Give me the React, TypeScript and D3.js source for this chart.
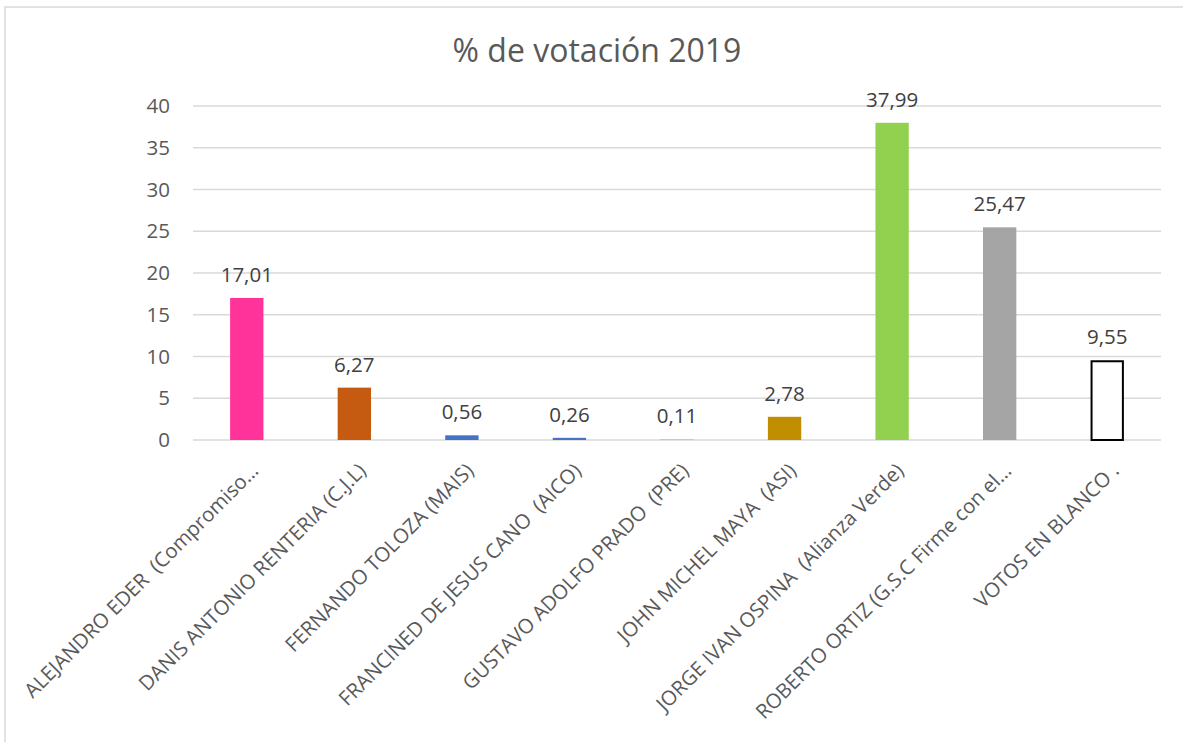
import React from "react";
import * as d3 from "d3";

const categories = [
  "ALEJANDRO EDER  (Compromiso…",
  "DANIS ANTONIO RENTERIA (C.J.L)",
  "FERNANDO TOLOZA (MAIS)",
  "FRANCINED DE JESUS CANO  (AICO)",
  "GUSTAVO ADOLFO PRADO  (PRE)",
  "JOHN MICHEL MAYA  (ASI)",
  "JORGE IVAN OSPINA  (Alianza Verde)",
  "ROBERTO ORTIZ (G.S.C Firme con el…",
  "VOTOS EN BLANCO .",
];
const values = [17.01, 6.27, 0.56, 0.26, 0.11, 2.78, 37.99, 25.47, 9.55];
const colors = ["#FF3399", "#C55A11", "#4472C4", "#4472C4", "#B4C7E7", "#BF8F00", "#92D050", "#A5A5A5", "#FFFFFF"];
const yTicks = [0, 5, 10, 15, 20, 25, 30, 35, 40];
const title = "% de votación 2019";

const W = 1183;
const H = 742;
const FONT = "'Open Sans', 'Noto Sans', sans-serif";

export default function App() {
  const left = 193, right = 1161, top = 106, bottom = 440;
  const x = d3.scaleBand<number>().domain(d3.range(categories.length)).range([left, right]).paddingInner(0.69).paddingOuter(0.345);
  const y = d3.scaleLinear().domain([0, 40]).range([bottom, top]);
  const fmt = (v: number) => v.toFixed(2).replace(".", ",");
  return (
    <svg width={W} height={H} style={{ position: "absolute", left: 0, top: 0, background: "#fff" }} fontFamily={FONT}>
      <rect x={5} y={7} width={1200} height={760} fill="#fff" stroke="#D9D9D9" strokeWidth={1.5} />
      <text x={597} y={62} textAnchor="middle" fontSize={32} fill="#595959">{title}</text>
      {yTicks.map((t) => (
        <g key={t}>
          <line x1={left} x2={right} y1={y(t)} y2={y(t)} stroke="#D9D9D9" strokeWidth={1.5} />
          <text x={170} y={y(t)} dy="0.35em" textAnchor="end" fontSize={20.5} fill="#595959">{t}</text>
        </g>
      ))}
      {values.map((v, i) => {
        const bx = x(i)!;
        const bw = x.bandwidth();
        const yt = y(v);
        const isWhite = colors[i] === "#FFFFFF";
        return (
          <g key={i}>
            <rect
              x={isWhite ? bx + 1 : bx}
              y={isWhite ? yt + 1 : yt}
              width={isWhite ? bw - 2 : bw}
              height={Math.max(isWhite ? bottom - yt - 1 : bottom - yt, 0)}
              fill={colors[i]}
              stroke={isWhite ? "#000" : "none"}
              strokeWidth={isWhite ? 2 : 0}
            />
            <text x={bx + bw / 2} y={yt - 16} textAnchor="middle" fontSize={20.5} fill="#404040">{fmt(v)}</text>
            <text
              transform={`translate(${bx + bw / 2 + 13},${bottom + 32}) rotate(-45)`}
              textAnchor="end"
              fontSize={20.3}
              fill="#595959"
              style={{ whiteSpace: "pre" }}
            >{categories[i]}</text>
          </g>
        );
      })}
    </svg>
  );
}
